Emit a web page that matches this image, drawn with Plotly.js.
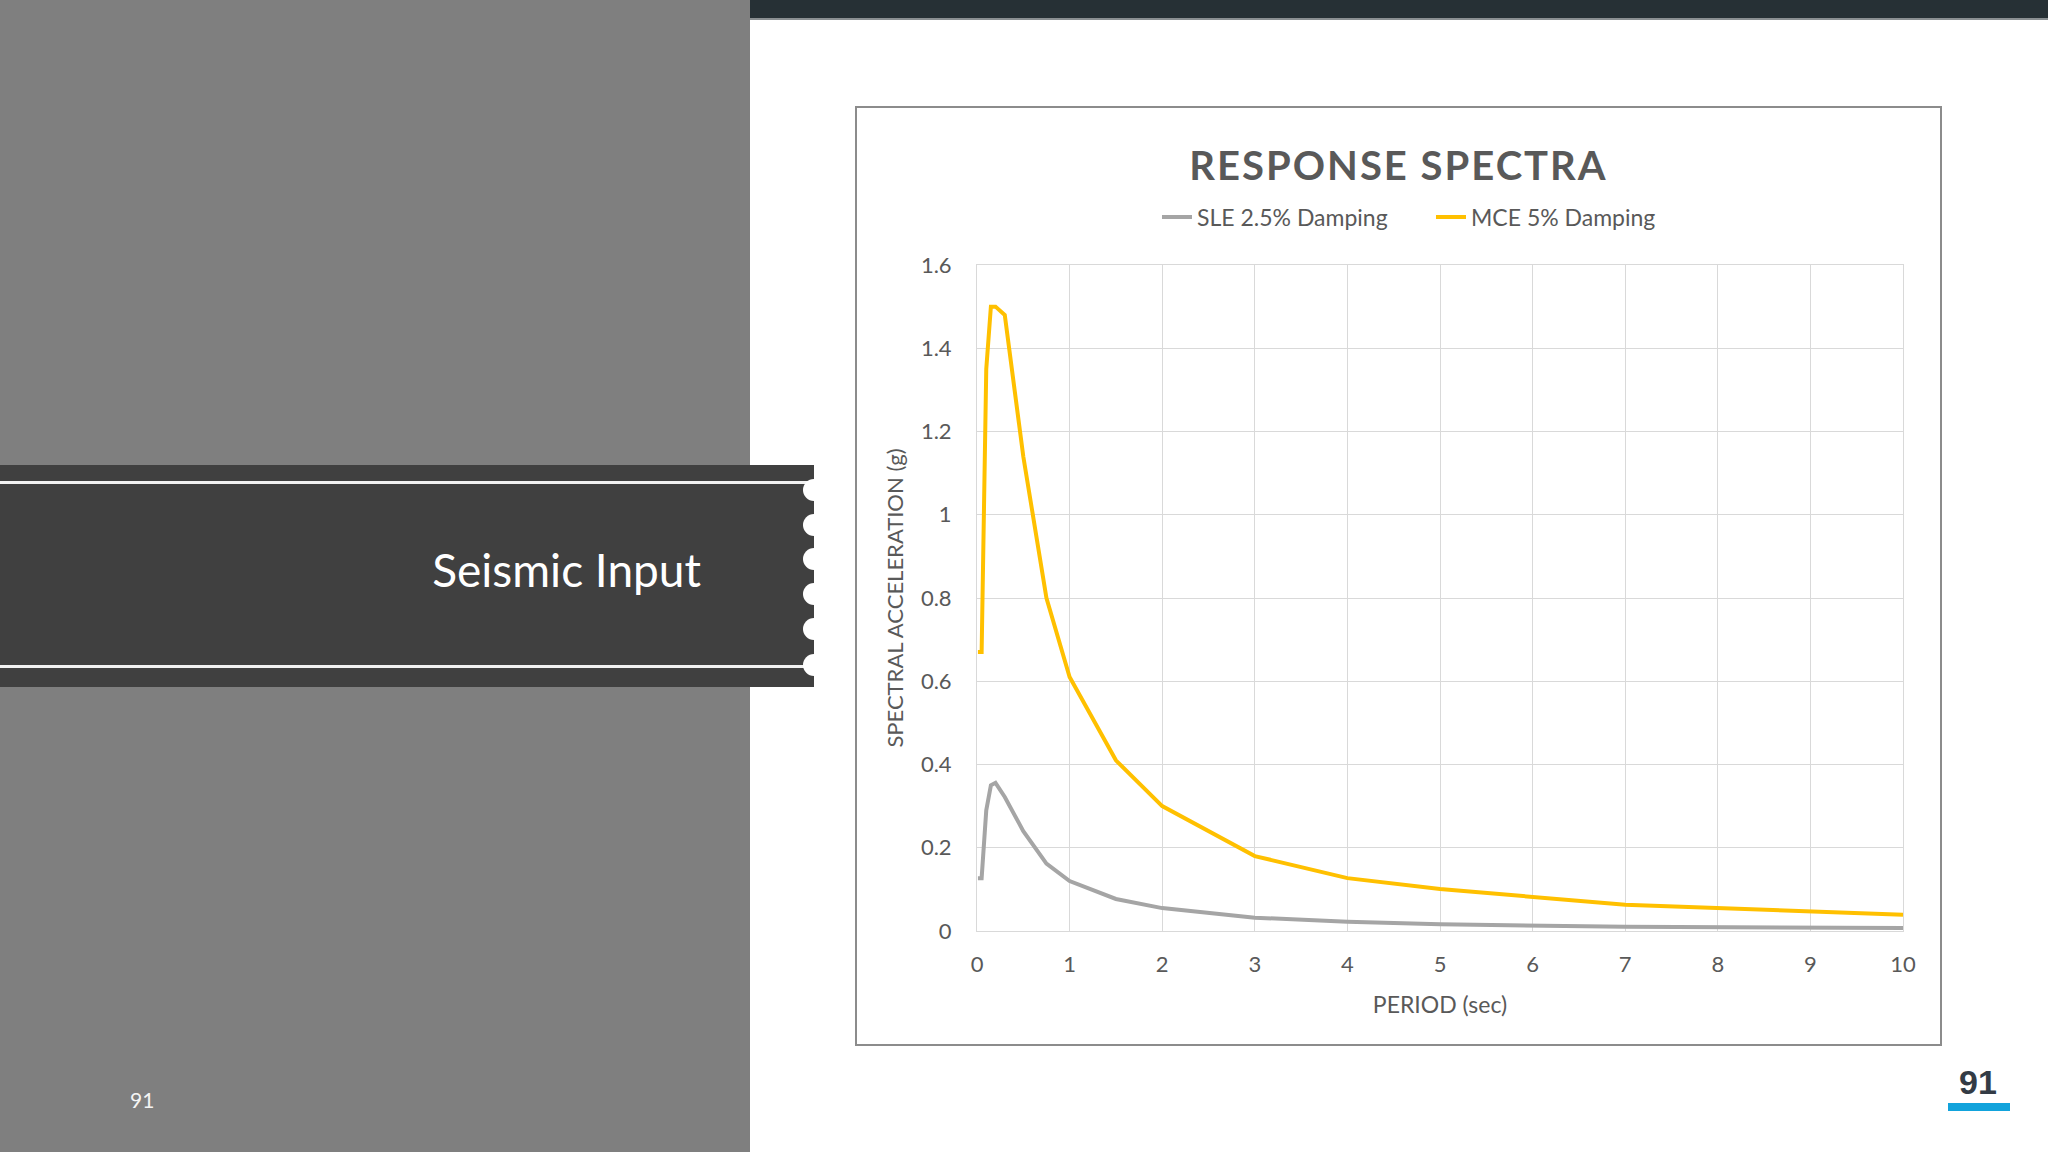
<!DOCTYPE html>
<html>
<head>
<meta charset="utf-8">
<script src="https://cdn.plot.ly/plotly-3.0.1.min.js"></script>
<style>
  html, body { margin: 0; padding: 0; }
  body { width: 2048px; height: 1152px; position: relative; overflow: hidden; background: #fff; font-family: Lato, "Open Sans", sans-serif; }
  .panel { position: absolute; left: 0; top: 0; width: 750px; height: 1152px; background: #7f7f7f; }
  .topbar { position: absolute; left: 750px; top: 0; width: 1298px; height: 18px; background: #263035; border-bottom: 2px solid #8a8f92; }
  .banner { position: absolute; left: 0; top: 465px; width: 814px; height: 222px; background: #404040; }
  .rule { position: absolute; left: 0; width: 808px; height: 3px; background: #f2f2f2; }
  .dot { position: absolute; width: 22px; height: 22px; border-radius: 50%; background: #fff; }
  .section { position: absolute; right: 1347px; top: 539px; color: #fff; font-size: 46px; font-weight: 400; line-height: 62px; white-space: nowrap; }
  .pg-left { position: absolute; left: 130px; top: 1087px; color: #f4f4f4; font-size: 21px; }
  .pg-right { position: absolute; left: 1946px; top: 1064px; width: 64px; text-align: center; color: #333b45; font-family: "Liberation Sans", Arial, sans-serif; font-weight: bold; font-size: 34px; line-height: 36px; }
  .pg-bar { position: absolute; left: 1948px; top: 1103px; width: 62px; height: 8px; background: #12a3dc; }
  #chart { position: absolute; left: 857px; top: 108px; width: 1083px; height: 936px; outline: 2px solid #8c8c8c; }
  #chart .gtitle { letter-spacing: 2px; }
</style>
</head>
<body>
<div class="panel"></div>
<div class="topbar"></div>
<div class="banner"></div>
<div class="rule" style="top:481px"></div>
<div class="rule" style="top:665px"></div>
<div class="dot" style="left:803px; top:479px"></div>
<div class="dot" style="left:803px; top:514px"></div>
<div class="dot" style="left:803px; top:548px"></div>
<div class="dot" style="left:803px; top:583px"></div>
<div class="dot" style="left:803px; top:618px"></div>
<div class="dot" style="left:803px; top:654px"></div>
<div class="section">Seismic Input</div>
<div class="pg-left">91</div>
<div class="pg-right">91</div>
<div class="pg-bar"></div>
<div id="chart"></div>
<script>
// period (sec) and spectral acceleration (g)
const periods = [0.01, 0.05, 0.1, 0.15, 0.2, 0.3, 0.5, 0.75, 1, 1.5, 2, 3, 4, 5, 7, 10];
const sleValues = [0.127, 0.127, 0.29, 0.35, 0.356, 0.322, 0.24, 0.162, 0.12, 0.077, 0.055, 0.032, 0.022, 0.016, 0.010, 0.007];
const mceValues = [0.67, 0.67, 1.35, 1.50, 1.50, 1.48, 1.14, 0.80, 0.61, 0.41, 0.30, 0.18, 0.127, 0.101, 0.063, 0.039];
const seriesNames = ['SLE 2.5% Damping', 'MCE 5% Damping'];
const seriesColors = ['#a5a5a5', '#ffc000'];

const FONT = 'Lato, "Open Sans", sans-serif';
const TEXT = '#595959';
const GRID = '#d9d9d9';

const traces = [sleValues, mceValues].map((vals, i) => ({
  x: periods,
  y: vals,
  name: seriesNames[i],
  type: 'scatter',
  mode: 'lines',
  line: { color: seriesColors[i], width: 4 },
  hoverinfo: 'skip'
}));

const axisBase = {
  showgrid: true,
  gridcolor: GRID,
  gridwidth: 1,
  showline: true,
  linecolor: GRID,
  linewidth: 1,
  mirror: true,
  zeroline: false,
  ticks: '',
  tickfont: { family: FONT, size: 22, color: TEXT },
  fixedrange: true
};

const layout = {
  width: 1083,
  height: 936,
  margin: { l: 120, r: 37, t: 157, b: 113 },
  paper_bgcolor: '#fff',
  plot_bgcolor: '#fff',
  font: { family: FONT, color: TEXT },
  title: {
    text: '<b>RESPONSE SPECTRA</b>',
    font: { family: FONT, size: 40, color: TEXT },
    x: 0.5, xanchor: 'center',
    yref: 'container', y: 0.938, yanchor: 'middle'
  },
  showlegend: true,
  legend: {
    orientation: 'h',
    xref: 'container', yref: 'container',
    x: 0.277, xanchor: 'left',
    y: 0.8835, yanchor: 'middle',
    font: { family: FONT, size: 23, color: TEXT },
    entrywidth: 229,
    entrywidthmode: 'pixels'
  },
  xaxis: Object.assign({}, axisBase, {
    range: [0, 10],
    dtick: 1,
    ticklabelstandoff: 14,
    title: { text: 'PERIOD (sec)', font: { family: FONT, size: 23, color: TEXT }, standoff: 20 }
  }),
  yaxis: Object.assign({}, axisBase, {
    range: [0, 1.6],
    dtick: 0.2,
    ticklabelstandoff: 20,
    title: { text: 'SPECTRAL ACCELERATION (g)', font: { family: FONT, size: 22, color: TEXT }, standoff: 11 }
  })
};

Plotly.newPlot('chart', traces, layout, { displayModeBar: false, staticPlot: true });
</script>
</body>
</html>
